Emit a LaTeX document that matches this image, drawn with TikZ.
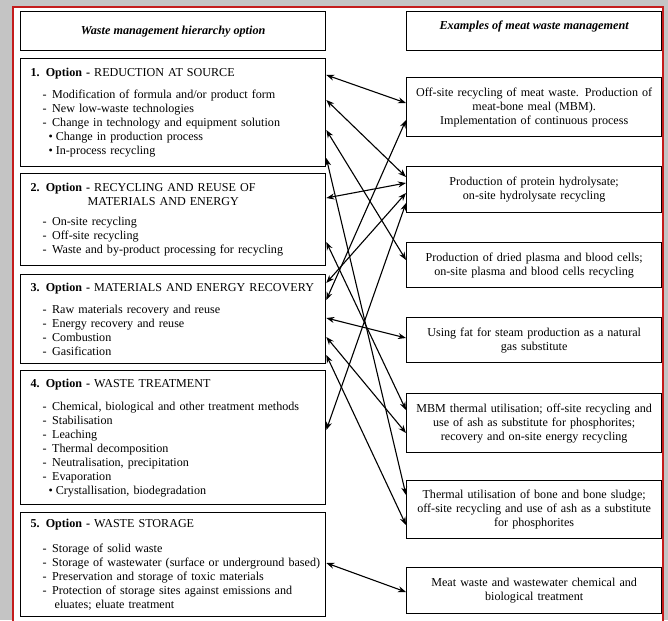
\documentclass[tikz,border=0pt]{standalone}
\usepackage{fontspec}
\setmainfont{Liberation Serif}
\usetikzlibrary{arrows.meta,calc}
\definecolor{FrameRed}{RGB}{196,28,28}
\definecolor{ShadeGray}{RGB}{196,196,196}
\newcommand{\optline}[2]{\mbox{{\bfseries #1. Option -} #2}}
\newcommand{\ditem}[1]{\mbox{\hspace*{12pt}-\hspace{5.5pt}#1}}
\newcommand{\bitem}[1]{\mbox{\hspace*{18pt}\textbullet\hspace{3pt}#1}}
\tikzset{
  nd_head/.style={
    rectangle, draw=black, line width=1.3pt, anchor=north west,
    minimum width=305pt, minimum height=39pt, inner sep=0pt,
    font=\fontsize{12.2}{14}\selectfont\bfseries\itshape},
  nd_opt/.style={
    rectangle, draw=black, line width=1.3pt, anchor=north west,
    text width=285pt, inner xsep=10pt, inner ysep=0pt,
    align=left, font=\fontsize{12.1}{14}\selectfont},
  nd_ex/.style={
    rectangle, draw=black, line width=1.3pt, anchor=north west,
    text width=245pt, inner xsep=5pt, inner ysep=0pt,
    align=center, font=\fontsize{12.1}{14}\selectfont},
  arr/.style={{Stealth[length=8pt,width=6pt]}-{Stealth[length=8pt,width=6pt]},line width=1.1pt},
}
\begin{document}
\begin{tikzpicture}[x=1pt,y=-1pt]
\useasboundingbox (0,0) rectangle (668,620);
% page frame
\fill[ShadeGray] (0,0) rectangle (668,620);
\draw[FrameRed,line width=1.2pt,fill=white] (13,7) rectangle (663,630);

% column heads
\node[nd_head] (hl) at (20,11) {Waste management hierarchy option};
\node[nd_head,minimum width=255pt,text depth=12pt] (hr) at (406,11) {Examples of meat waste management};

% hierarchy options
\node[nd_opt,minimum height=108pt] (l1) at (20,58) {%
  \optline{1}{REDUCTION AT SOURCE}\\[8pt]
  \ditem{Modification of formula and/or product form}\\
  \ditem{New low-waste technologies}\\
  \ditem{Change in technology and equipment solution}\\
  \bitem{Change in production process}\\
  \bitem{In-process recycling}};
\node[nd_opt,minimum height=92pt] (l2) at (20,173) {%
  \optline{2}{RECYCLING AND REUSE OF}\\
  \hspace*{57pt}MATERIALS AND ENERGY\\[6pt]
  \ditem{On-site recycling}\\
  \ditem{Off-site recycling}\\
  \ditem{Waste and by-product processing for recycling}};
\node[nd_opt,minimum height=89pt] (l3) at (20,274) {%
  \optline{3}{MATERIALS AND ENERGY RECOVERY}\\[8pt]
  \ditem{Raw materials recovery and reuse}\\
  \ditem{Energy recovery and reuse}\\
  \ditem{Combustion}\\
  \ditem{Gasification}};
\node[nd_opt,minimum height=134pt] (l4) at (20,370) {%
  \optline{4}{WASTE TREATMENT}\\[9pt]
  \ditem{Chemical, biological and other treatment methods}\\
  \ditem{Stabilisation}\\
  \ditem{Leaching}\\
  \ditem{Thermal decomposition}\\
  \ditem{Neutralisation, precipitation}\\
  \ditem{Evaporation}\\
  \bitem{Crystallisation, biodegradation}};
\node[nd_opt,minimum height=104pt] (l5) at (20,512) {%
  \optline{5}{WASTE STORAGE}\\[11pt]
  \ditem{Storage of solid waste}\\
  \ditem{Storage of wastewater (surface or underground based)}\\
  \ditem{Preservation and storage of toxic materials}\\
  \ditem{Protection of storage sites against emissions and}\\
  \hspace*{24pt}eluates; eluate treatment};

% meat waste examples
\node[nd_ex,minimum height=59pt] (r1) at (406,77) {Off-site recycling of meat waste. Production of\\ meat-bone meal (MBM).\\ Implementation of continuous process};
\node[nd_ex,minimum height=46pt] (r2) at (406,166) {Production of protein hydrolysate;\\ on-site hydrolysate recycling};
\node[nd_ex,minimum height=45pt] (r3) at (406,242) {Production of dried plasma and blood cells;\\ on-site plasma and blood cells recycling};
\node[nd_ex,minimum height=45pt] (r4) at (406,317) {Using fat for steam production as a natural\\ gas substitute};
\node[nd_ex,minimum height=59pt] (r5) at (406,393) {MBM thermal utilisation; off-site recycling and\\ use of ash as substitute for phosphorites;\\ recovery and on-site energy recycling};
\node[nd_ex,minimum height=58pt] (r6) at (406,480) {Thermal utilisation of bone and bone sludge;\\ off-site recycling and use of ash as a substitute\\ for phosphorites};
\node[nd_ex,minimum height=46pt] (r7) at (406,567) {Meat waste and wastewater chemical and\\ biological treatment};

% links
\draw[arr] (l1.east |- 0,75) -- (r1.west |- 0,103);
\draw[arr] (l1.east |- 0,100) -- (r2.west |- 0,177);
\draw[arr] (l1.east |- 0,130) -- (r3.west |- 0,260);
\draw[arr] (l1.east |- 0,158) -- (r6.west |- 0,495);
\draw[arr] (l2.east |- 0,198) -- (r2.west |- 0,183);
\draw[arr] (l2.east |- 0,242) -- (r5.west |- 0,410);
\draw[arr] (l3.east |- 0,283) -- (r2.west |- 0,193);
\draw[arr] (l3.east |- 0,300) -- (r1.west |- 0,120);
\draw[arr] (l3.east |- 0,318) -- (r4.west |- 0,338);
\draw[arr] (l3.east |- 0,337) -- (r5.west |- 0,433);
\draw[arr] (l3.east |- 0,355) -- (r6.west |- 0,525);
\draw[arr] (l4.east |- 0,430) -- (r2.west |- 0,203);
\draw[arr] (l5.east |- 0,563) -- (r7.west |- 0,592);
\end{tikzpicture}
\end{document}
